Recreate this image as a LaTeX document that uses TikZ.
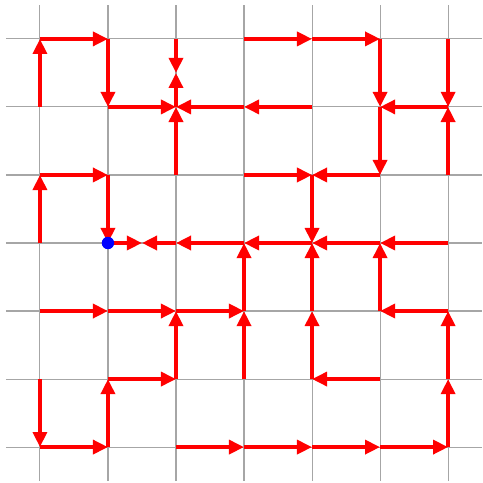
\documentclass[tikz,border=0pt]{standalone}
\usetikzlibrary{arrows.meta}
\begin{document}
\begin{tikzpicture}[x=1cm,y=1cm,
  gridline/.style={draw=black!35, line width=0.45pt},
  flow/.style={draw=red, line width=1.65pt, -{Triangle[length=6.3pt,width=5.8pt]}},
  dot/.style={circle, fill=blue, inner sep=0pt, minimum size=5.2pt}]
\useasboundingbox (-0.587,-6.528) rectangle (6.5,0.572);
\draw[gridline] (-0.5,-6.5) grid (6.5,0.5);
\foreach \i in {0,...,6} {
  \foreach \j in {0,...,6} {
    \coordinate (p\i\j) at (\i,-\j);
  }
}
\coordinate (mA) at (2,-0.5);
\coordinate (mB) at (1.5,-3);
\foreach \a/\b in {p01/p00, p00/p10, p10/p11, p20/mA, p21/mA, p11/p21, p31/p21,
  p41/p31, p22/p21, p30/p40, p40/p50, p50/p51, p60/p61, p61/p51, p62/p61,
  p51/p52, p52/p42, p32/p42, p42/p43, p03/p02, p02/p12, p12/p13, p13/mB,
  p23/mB, p33/p23, p43/p33, p53/p43, p63/p53, p34/p33, p44/p43, p54/p53,
  p04/p14, p14/p24, p24/p34, p25/p24, p35/p34, p45/p44, p64/p54, p65/p64,
  p05/p06, p15/p25, p16/p15, p55/p45, p66/p65, p06/p16, p26/p36, p36/p46,
  p46/p56, p56/p66} {
  \draw[flow] (\a) -- (\b);
}
\node[dot] (start) at (p13) {};
\end{tikzpicture}
\end{document}
